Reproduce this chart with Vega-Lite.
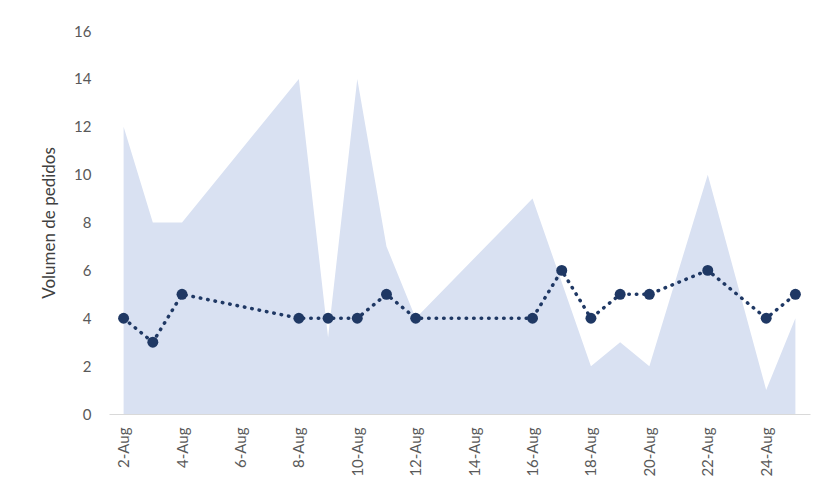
{
  "$schema": "https://vega.github.io/schema/vega-lite/v6.json",
  "width": 701,
  "height": 383,
  "autosize": {"type": "none"},
  "padding": {"left": 109, "top": 31, "right": 11, "bottom": 70},
  "background": "white",
  "config": {
    "view": {"stroke": null},
    "font": "Lato",
    "axis": {"labelFont": "Lato", "titleFont": "Lato", "labelColor": "#595959", "titleColor": "#404040", "grid": false, "ticks": false}
  },
  "data": {
    "values": [
      {"fecha": "2020-08-02", "area": 12, "pedidos": 4},
      {"fecha": "2020-08-03", "area": 8, "pedidos": 3},
      {"fecha": "2020-08-04", "area": 8, "pedidos": 5},
      {"fecha": "2020-08-08", "area": 14, "pedidos": 4},
      {"fecha": "2020-08-09", "area": 3.2, "pedidos": 4},
      {"fecha": "2020-08-10", "area": 14, "pedidos": 4},
      {"fecha": "2020-08-11", "area": 7, "pedidos": 5},
      {"fecha": "2020-08-12", "area": 4, "pedidos": 4},
      {"fecha": "2020-08-16", "area": 9, "pedidos": 4},
      {"fecha": "2020-08-17", "area": 5.5, "pedidos": 6},
      {"fecha": "2020-08-18", "area": 2, "pedidos": 4},
      {"fecha": "2020-08-19", "area": 3, "pedidos": 5},
      {"fecha": "2020-08-20", "area": 2, "pedidos": 5},
      {"fecha": "2020-08-22", "area": 10, "pedidos": 6},
      {"fecha": "2020-08-24", "area": 1, "pedidos": 4},
      {"fecha": "2020-08-25", "area": 4, "pedidos": 5}
    ]
  },
  "encoding": {
    "x": {
      "field": "fecha",
      "type": "temporal",
      "scale": {"type": "utc", "domain": ["2020-08-01T12:00:00Z", "2020-08-25T12:00:00Z"]},
      "axis": {
        "title": null,
        "values": ["2020-08-02", "2020-08-04", "2020-08-06", "2020-08-08", "2020-08-10", "2020-08-12", "2020-08-14", "2020-08-16", "2020-08-18", "2020-08-20", "2020-08-22", "2020-08-24"],
        "labelExpr": "utcFormat(datum.value, '%-d-%b')",
        "labelAngle": -90,
        "labelAlign": "right",
        "labelBaseline": "middle",
        "labelFontSize": 15,
        "labelPadding": 13,
        "domainColor": "#D9D9D9",
        "domainWidth": 1
      }
    }
  },
  "layer": [
    {
      "mark": {"type": "area", "color": "#D9E1F2", "opacity": 1},
      "encoding": {
        "y": {
          "field": "area",
          "type": "quantitative",
          "scale": {"domain": [0, 16]},
          "axis": {
            "title": "Volumen de pedidos",
            "values": [0, 2, 4, 6, 8, 10, 12, 14, 16],
            "domain": false,
            "labelFontSize": 15,
            "labelPadding": 18,
            "titleFontSize": 17,
            "titleFontWeight": "normal",
            "titlePadding": 15
          }
        }
      }
    },
    {
      "mark": {"type": "line", "color": "#1F3864", "strokeWidth": 3.5, "strokeDash": [0.5, 7], "strokeCap": "round"},
      "encoding": {"y": {"field": "pedidos", "type": "quantitative"}}
    },
    {
      "mark": {"type": "point", "filled": true, "color": "#1F3864", "size": 120, "opacity": 1},
      "encoding": {"y": {"field": "pedidos", "type": "quantitative"}}
    }
  ]
}
